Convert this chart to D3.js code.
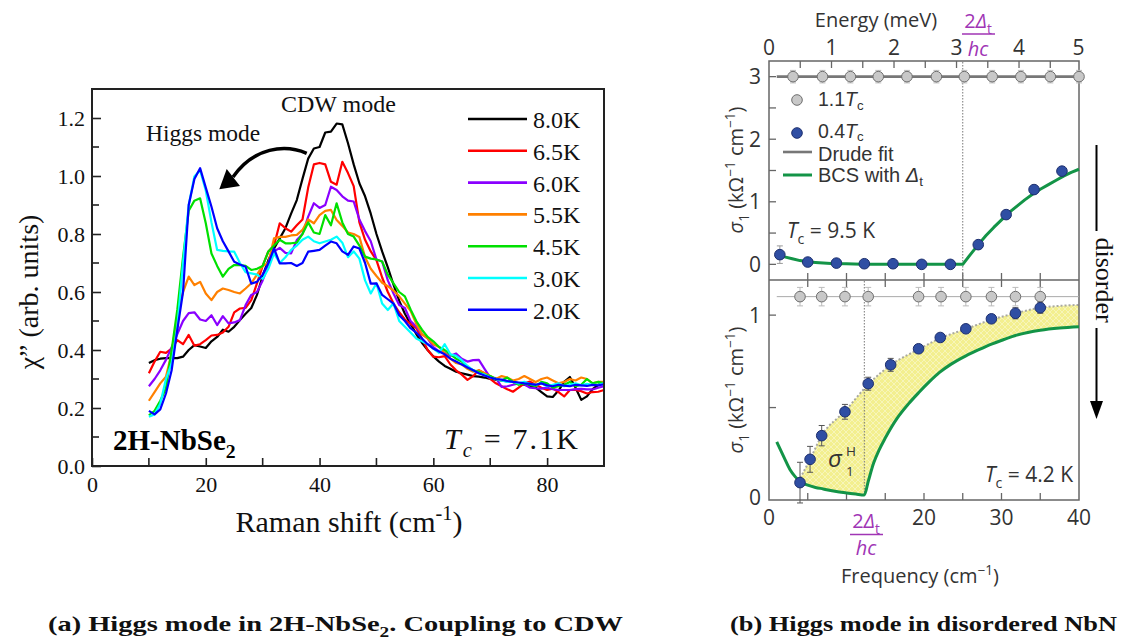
<!DOCTYPE html>
<html>
<head>
<meta charset="utf-8">
<script src="https://cdn.jsdelivr.net/npm/d3@7"></script>
<style>
  body { margin: 0; background: #fff; }
  svg { display: block; }
</style>
</head>
<body>
<svg id="fig" width="1126" height="640"></svg>
<script>
// ---------------- Panel (a): Raman spectra of 2H-NbSe2 ----------------
const shift = [10,11,12,13,14,15,16,17,18,19,20,21,22,23,24,25,26,27,28,29,
  30,31,32,33,34,35,36,37,38,39,40,41,42,43,44,45,46,47,48,49,
  50,51,52,53,54,55,56,57,58,59,60,61,62,63,64,65,66,67,68,69,
  70,71,72,73,74,75,76,77,78,79,80,81,82,83,84,85,86,87,88,89,90];

const chi80 = [0.355,0.365,0.370,0.372,0.372,0.372,0.377,0.400,0.417,0.412,
  0.407,0.430,0.445,0.470,0.463,0.480,0.503,0.525,0.545,0.590,
  0.655,0.710,0.750,0.785,0.820,0.870,0.917,0.990,1.060,1.095,
  1.100,1.150,1.153,1.181,1.178,1.113,1.040,0.975,0.930,0.870,
  0.800,0.740,0.685,0.625,0.570,0.525,0.490,0.455,0.425,0.400,
  0.378,0.360,0.345,0.335,0.325,0.320,0.315,0.310,0.308,0.305,
  0.300,0.298,0.295,0.292,0.290,0.285,0.280,0.275,0.270,0.255,
  0.240,0.238,0.260,0.290,0.307,0.270,0.228,0.240,0.265,0.280,0.291];

const chi65 = [0.320,0.360,0.394,0.390,0.405,0.434,0.420,0.452,0.415,0.420,
  0.434,0.450,0.452,0.460,0.480,0.530,0.543,0.545,0.572,0.630,
  0.690,0.740,0.760,0.837,0.820,0.808,0.830,0.850,0.960,1.040,
  1.045,1.040,0.980,0.970,1.049,1.010,0.965,0.840,0.780,0.740,
  0.710,0.650,0.600,0.560,0.530,0.505,0.490,0.475,0.440,0.400,
  0.377,0.375,0.379,0.350,0.330,0.315,0.297,0.310,0.330,0.320,
  0.300,0.285,0.275,0.265,0.256,0.270,0.285,0.291,0.280,0.270,
  0.262,0.267,0.255,0.240,0.262,0.262,0.258,0.250,0.255,0.256,0.262];

const chi60 = [0.275,0.300,0.330,0.366,0.410,0.455,0.500,0.527,0.530,0.505,
  0.500,0.520,0.486,0.517,0.492,0.495,0.503,0.555,0.590,0.600,
  0.640,0.690,0.740,0.752,0.735,0.733,0.779,0.800,0.860,0.906,
  0.890,0.900,0.963,0.952,0.930,0.915,0.912,0.850,0.810,0.775,
  0.712,0.705,0.640,0.595,0.555,0.545,0.500,0.480,0.455,0.440,
  0.410,0.395,0.390,0.380,0.388,0.370,0.360,0.365,0.366,0.335,
  0.305,0.303,0.273,0.275,0.280,0.285,0.282,0.270,0.268,0.267,
  0.270,0.265,0.262,0.262,0.262,0.265,0.266,0.264,0.264,0.270,0.275];

const chi55 = [0.225,0.255,0.285,0.308,0.390,0.520,0.600,0.653,0.624,0.635,
  0.595,0.572,0.600,0.612,0.607,0.600,0.595,0.612,0.630,0.660,
  0.690,0.700,0.785,0.790,0.790,0.795,0.797,0.814,0.850,0.837,
  0.865,0.880,0.883,0.848,0.828,0.805,0.800,0.790,0.720,0.680,
  0.655,0.632,0.620,0.605,0.585,0.560,0.535,0.490,0.455,0.440,
  0.420,0.410,0.390,0.370,0.355,0.350,0.335,0.325,0.330,0.320,
  0.310,0.300,0.310,0.305,0.295,0.300,0.310,0.300,0.290,0.300,
  0.305,0.295,0.285,0.290,0.300,0.295,0.305,0.300,0.285,0.290,0.290];

const chi45 = [0.175,0.190,0.225,0.268,0.400,0.540,0.720,0.880,0.915,0.923,
  0.837,0.733,0.690,0.653,0.680,0.693,0.693,0.690,0.676,0.680,
  0.690,0.740,0.760,0.780,0.768,0.768,0.770,0.800,0.840,0.805,
  0.800,0.865,0.830,0.906,0.840,0.800,0.791,0.760,0.722,0.715,
  0.712,0.705,0.660,0.630,0.600,0.585,0.540,0.500,0.470,0.445,
  0.430,0.410,0.400,0.385,0.370,0.360,0.340,0.330,0.325,0.315,
  0.310,0.300,0.295,0.305,0.290,0.280,0.285,0.280,0.275,0.290,
  0.285,0.270,0.275,0.280,0.290,0.275,0.280,0.300,0.285,0.290,0.285];

const chi30 = [0.170,0.178,0.215,0.300,0.354,0.480,0.700,0.900,0.998,1.020,
  0.950,0.840,0.745,0.742,0.740,0.739,0.700,0.668,0.664,0.660,
  0.645,0.680,0.733,0.700,0.720,0.745,0.760,0.780,0.791,0.775,
  0.768,0.774,0.780,0.791,0.770,0.720,0.740,0.715,0.640,0.595,
  0.630,0.560,0.538,0.561,0.500,0.480,0.460,0.440,0.430,0.420,
  0.405,0.390,0.420,0.385,0.380,0.365,0.345,0.330,0.320,0.315,
  0.305,0.300,0.295,0.290,0.290,0.285,0.290,0.283,0.280,0.285,
  0.275,0.280,0.285,0.275,0.280,0.285,0.278,0.283,0.280,0.280,0.285];

const chi20 = [0.190,0.178,0.195,0.250,0.330,0.470,0.600,0.900,0.990,1.027,
  0.960,0.894,0.820,0.775,0.740,0.704,0.695,0.687,0.629,0.635,
  0.660,0.700,0.750,0.699,0.699,0.700,0.690,0.700,0.739,0.742,
  0.745,0.760,0.774,0.768,0.740,0.728,0.757,0.750,0.700,0.629,
  0.630,0.590,0.575,0.560,0.520,0.500,0.475,0.460,0.440,0.420,
  0.405,0.395,0.385,0.370,0.360,0.350,0.340,0.330,0.320,0.312,
  0.305,0.300,0.298,0.293,0.290,0.288,0.285,0.283,0.280,0.285,
  0.278,0.275,0.280,0.277,0.275,0.280,0.278,0.276,0.280,0.278,0.282];

const tempLabels = ["8.0K", "6.5K", "6.0K", "5.5K", "4.5K", "3.0K", "2.0K"];
const spectra = [chi80, chi65, chi60, chi55, chi45, chi30, chi20];
const tempColors = ["#000000", "#ff0000", "#8a00ff", "#ff8000", "#00e000", "#00ffff", "#0000ff"];

const chiTicks = [0, 0.2, 0.4, 0.6, 0.8, 1.0, 1.2];
const chiMinor = [0.1, 0.3, 0.5, 0.7, 0.9, 1.1];
const shiftTicks = [0, 20, 40, 60, 80];
const shiftMinor = [10, 30, 50, 70];

// ---------------- Panel (b): optical conductivity of NbN ----------------
const meVtoCm = 8.0655;
const energyTicks = [0, 1, 2, 3, 4, 5];
const energyMinor = [0.5, 1, 1.5, 2, 2.5, 3, 3.5, 4, 4.5];
const freqTicks = [0, 20, 30, 40];
const freqMinor = [5, 10, 15, 20, 25, 30, 35];
const sigTopTicks = [0, 1, 2, 3];
const sigTopMinor = [0, 0.5, 1, 1.5, 2, 2.5, 3];
const sigBotTicks = [0, 1];
const sigBotMinor = [0.5, 1];

// clean film, Tc = 9.5 K
const gapClean = 25.0;
const freqNormClean = [3.1, 6.9, 10.5, 14.1, 17.8, 21.6, 25.2, 28.8, 32.5, 36.3, 40.0];
const sigNormClean = [3.0, 3.0, 3.0, 3.0, 3.0, 3.0, 3.0, 3.0, 3.0, 3.0, 3.0];
const freqSupClean = [1.4, 5.0, 8.7, 12.3, 16.0, 19.7, 23.4, 27.0, 30.6, 34.2, 37.8];
const sigSupClean = [0.155, 0.037, 0.02, 0.01, 0.01, 0.0, 0.0, 0.315, 0.795, 1.195, 1.49];
const errSupClean = [0.14, 0.03, 0.03, 0.03, 0.03, 0.03, 0.03, 0.03, 0.03, 0.03, 0.04];
const drudeFreqClean = [1.0, 40.0];
const drudeSigClean = [3.0, 3.0];
const bcsFreqClean = [1.0, 2.0, 3.0, 4.0, 5.0, 6.0, 8.0, 10.0, 12.0, 14.0, 25.0, 26.0, 27.0, 28.0, 29.0,
  30.0, 31.0, 32.0, 33.0, 34.0, 35.0, 36.0, 37.0, 38.0, 39.0, 40.0];
const bcsSigClean = [0.16, 0.12, 0.09, 0.06, 0.04, 0.03, 0.015, 0.008, 0.003, 0.0, 0.0, 0.16, 0.315, 0.46, 0.59,
  0.71, 0.83, 0.93, 1.03, 1.12, 1.20, 1.27, 1.34, 1.41, 1.47, 1.52];

// disordered film, Tc = 4.2 K
const gapDis = 12.3;
const freqNormDis = [4.0, 6.8, 9.8, 12.8, 19.3, 22.2, 25.4, 28.7, 31.8, 35.0];
const sigNormDis = [1.1, 1.1, 1.1, 1.1, 1.1, 1.1, 1.1, 1.1, 1.1, 1.1];
const freqSupDis = [4.0, 5.3, 6.8, 9.8, 12.8, 15.7, 19.3, 22.1, 25.4, 28.7, 31.8, 35.0];
const sigSupDis = [0.094, 0.22, 0.348, 0.477, 0.629, 0.731, 0.818, 0.879, 0.926, 0.98, 1.01, 1.04];
const errSupDis = [0.11, 0.07, 0.055, 0.04, 0.035, 0.035, 0.02, 0.02, 0.02, 0.02, 0.03, 0.03];
const drudeFreqDis = [1.0, 40.0];
const drudeSigDis = [1.1, 1.1];
const envFreqDis = [3.8, 5.3, 6.8, 9.8, 12.8, 15.7, 19.3, 22.1, 25.4, 28.7, 31.8, 35.0, 37.5, 40.0];
const envSigDis = [0.10, 0.22, 0.348, 0.48, 0.625, 0.73, 0.815, 0.875, 0.925, 0.975, 1.01, 1.04, 1.05, 1.055];
const bcsFreqDis = [1.0, 1.5, 2.0, 2.7, 3.4, 4.0, 5.0, 6.0, 7.0, 8.5, 10.0, 11.2, 12.3, 12.8, 13.5, 14.2, 15.0,
  16.5, 18.0, 19.3, 20.7, 22.0, 23.5, 25.4, 27.0, 28.8, 30.3, 31.8, 33.4, 35.0, 37.5, 40.0];
const bcsSigDis = [0.315, 0.27, 0.225, 0.165, 0.125, 0.10, 0.08, 0.068, 0.06, 0.047, 0.038, 0.032, 0.027, 0.10, 0.20, 0.27, 0.335,
  0.44, 0.52, 0.58, 0.64, 0.69, 0.735, 0.78, 0.812, 0.845, 0.868, 0.89, 0.906, 0.918, 0.93, 0.937];

// ---------------- drawing ----------------
const svg = d3.select("#fig");
const serif = "'Liberation Serif', 'Times New Roman', serif";
const sans = "'Open Sans', 'Liberation Sans', sans-serif";
const helv = "'Liberation Sans', Arial, sans-serif";

// text with italic / sub / superscript pieces
function rich(g, x, y, parts, size, family, anchor, fill, extra, subShift) {
  const t = g.append("text").attr("x", x).attr("y", y)
    .attr("font-size", size).attr("font-family", family)
    .attr("text-anchor", anchor || "start").attr("fill", fill || "#000");
  if (extra) Object.entries(extra).forEach(([k, v]) => t.attr(k, v));
  const sub = subShift === undefined ? 0.28 : subShift;
  let cur = 0;
  parts.forEach(p => {
    const s = typeof p === "string" ? { t: p } : p;
    const target = s.sub ? size * sub : s.sup ? -size * 0.4 : 0;
    const ts = t.append("tspan").text(s.t).attr("dy", target - cur);
    cur = target;
    if (s.sub || s.sup) ts.attr("font-size", size * 0.68);
    if (s.i) ts.attr("font-style", "italic");
    if (s.b) ts.attr("font-weight", "bold");
  });
  return t;
}

// ===== Panel (a) =====
const A = svg.append("g");
const xA = d3.scaleLinear().domain([0, 90]).range([92, 604]);
const yA = d3.scaleLinear().domain([0, 1.3]).range([466, 89]);

spectra.forEach((vals, k) => {
  const line = d3.line().x((d, i) => xA(shift[i])).y(d => yA(d));
  A.append("path").attr("d", line(vals)).attr("fill", "none")
    .attr("stroke", tempColors[k]).attr("stroke-width", 2.2)
    .attr("stroke-linejoin", "round");
});

// frame and ticks
A.append("rect").attr("x", xA(0)).attr("y", yA(1.3)).attr("width", xA(90) - xA(0))
  .attr("height", yA(0) - yA(1.3)).attr("fill", "none").attr("stroke", "#222").attr("stroke-width", 2);

const yAxisA = d3.axisLeft(yA).tickValues(chiTicks).tickFormat(d3.format(".1f")).tickSize(-9).tickPadding(7);
const gyA = A.append("g").attr("transform", `translate(${xA(0)},0)`).call(yAxisA);
gyA.select(".domain").remove();
gyA.selectAll("line").attr("stroke", "#222").attr("stroke-width", 1.6);
gyA.selectAll("text").attr("font-family", serif).attr("font-size", 22).attr("fill", "#111");
chiMinor.forEach(v => A.append("line").attr("x1", xA(0)).attr("x2", xA(0) + 7)
  .attr("y1", yA(v)).attr("y2", yA(v)).attr("stroke", "#222").attr("stroke-width", 1.6));

const xAxisA = d3.axisBottom(xA).tickValues(shiftTicks).tickSize(-8).tickPadding(10);
const gxA = A.append("g").attr("transform", `translate(0,${yA(0)})`).call(xAxisA);
gxA.select(".domain").remove();
gxA.selectAll("line").attr("stroke", "#222").attr("stroke-width", 1.6);
gxA.selectAll("text").attr("font-family", serif).attr("font-size", 22).attr("fill", "#111");
shiftMinor.forEach(v => A.append("line").attr("x1", xA(v)).attr("x2", xA(v))
  .attr("y1", yA(0)).attr("y2", yA(0) - 8).attr("stroke", "#222").attr("stroke-width", 1.6));

// axis titles
rich(A, 0, 0, ["Raman shift (cm", { t: "-1", sup: true }, ")"], 30, serif, "middle", "#111")
  .attr("transform", `translate(${xA(45) + 1},532)`);
rich(A, 0, 0, ["χ” (arb. units)"], 28, serif, "middle", "#111")
  .attr("transform", `translate(38,${yA(0.6)}) rotate(-90)`);

// legend
tempLabels.forEach((lab, k) => {
  const y = 119 + k * 31.8;
  A.append("line").attr("x1", 468).attr("x2", 527).attr("y1", y).attr("y2", y)
    .attr("stroke", tempColors[k]).attr("stroke-width", 2.6);
  A.append("text").attr("x", 533).attr("y", y + 9).text(lab)
    .attr("font-family", serif).attr("font-size", 24).attr("fill", "#111");
});

// annotations
A.append("text").attr("x", 281).attr("y", 112).text("CDW mode")
  .attr("font-family", serif).attr("font-size", 24).attr("fill", "#111");
A.append("text").attr("x", 146).attr("y", 141).text("Higgs mode")
  .attr("font-family", serif).attr("font-size", 23.5).attr("fill", "#111");
A.append("path").attr("d", "M306.7,153.3 C285,144 254,147 233,177")
  .attr("fill", "none").attr("stroke", "#000").attr("stroke-width", 3.5);
A.append("path").attr("d", "M219.3,189.3 L226.7,169 L240,186 Z").attr("fill", "#000");

rich(A, 113, 450, [{ t: "2H-NbSe", b: true }, { t: "2", sub: true, b: true }], 29, serif, "start", "#000");
rich(A, 444, 449, [{ t: "T", i: true }, { t: "c", sub: true, i: true }, " = 7.1K"], 30, serif, "start", "#111",
  { textLength: 134, lengthAdjust: "spacing" });

// ===== Panel (b) =====
const B = svg.append("g");
const grey = "#666";
const txt = "#333";
const purple = "#a035b5";
const blueFill = "#2f4ea3";
const green = "#139447";
const xB = d3.scaleLinear().domain([0, 40]).range([769, 1079]);
const yT = d3.scaleLinear().domain([-0.25, 3.25]).range([280, 61]);
const yD = d3.scaleLinear().domain([0, 1.19]).range([500, 280]);

// yellow fill with a faint cross-hatch
const defs = svg.append("defs");
const pat = defs.append("pattern").attr("id", "hatch").attr("width", 6).attr("height", 6)
  .attr("patternUnits", "userSpaceOnUse");
pat.append("rect").attr("width", 6).attr("height", 6).attr("fill", "#f3ef8f");
pat.append("path").attr("d", "M0,0 L6,6 M6,0 L0,6").attr("stroke", "#f8f6c4").attr("stroke-width", 0.8);

const curveD = d3.line().x(d => xB(d[0])).y(d => yD(d[1])).curve(d3.curveMonotoneX);
const env = envFreqDis.map((f, i) => [f, envSigDis[i]]);
const bcsD = bcsFreqDis.map((f, i) => [f, bcsSigDis[i]]);
const bcsUpper = bcsD.filter(d => d[0] >= 4.0).reverse();
const lineLin = d3.line().x(d => xB(d[0])).y(d => yD(d[1]));
B.append("path").attr("d", curveD(env) + "L" + lineLin(bcsUpper).slice(1) + "Z")
  .attr("fill", "url(#hatch)").attr("stroke", "none");
B.append("path").attr("d", curveD(env)).attr("fill", "none")
  .attr("stroke", "#a9a9a0").attr("stroke-width", 2).attr("stroke-dasharray", "2,2");

// frame
B.append("rect").attr("x", xB(0)).attr("y", 61).attr("width", xB(40) - xB(0)).attr("height", 439)
  .attr("fill", "none").attr("stroke", grey).attr("stroke-width", 1.5);
B.append("line").attr("x1", xB(0)).attr("x2", xB(40)).attr("y1", 280).attr("y2", 280)
  .attr("stroke", grey).attr("stroke-width", 1.5);

// ticks
const tick = (x1, y1, x2, y2) => B.append("line").attr("x1", x1).attr("y1", y1).attr("x2", x2).attr("y2", y2)
  .attr("stroke", grey).attr("stroke-width", 1.3);
energyMinor.forEach(e => tick(xB(e * meVtoCm), 61, xB(e * meVtoCm), 68));
freqMinor.forEach(f => {
  tick(xB(f), 280, xB(f), 273);
  tick(xB(f), 280, xB(f), 287);
  tick(xB(f), 500, xB(f), 493);
});
sigTopMinor.forEach(v => tick(xB(0), yT(v), xB(0) + 7, yT(v)));
sigBotMinor.forEach(v => tick(xB(0), yD(v), xB(0) + 7, yD(v)));

// tick labels
energyTicks.forEach(e => B.append("text").attr("x", xB(e * meVtoCm) - (e === 5 ? 3 : 0)).attr("y", 55)
  .attr("text-anchor", "middle").text(e).attr("font-family", sans).attr("font-size", 21).attr("fill", txt));
freqTicks.forEach(f => B.append("text").attr("x", xB(f)).attr("y", 525)
  .attr("text-anchor", "middle").text(f).attr("font-family", sans).attr("font-size", 21).attr("fill", txt));
sigTopTicks.forEach(v => B.append("text").attr("x", 761).attr("y", yT(v) + 7.5)
  .attr("text-anchor", "end").text(v).attr("font-family", sans).attr("font-size", 21).attr("fill", txt));
sigBotTicks.forEach(v => B.append("text").attr("x", 761).attr("y", yD(v) + (v === 0 ? 5 : 7.5))
  .attr("text-anchor", "end").text(v).attr("font-family", sans).attr("font-size", 21).attr("fill", txt));

// axis titles
B.append("text").attr("x", 876).attr("y", 27).attr("text-anchor", "middle").text("Energy (meV)")
  .attr("font-family", sans).attr("font-size", 20).attr("fill", txt);
rich(B, 920, 583, ["Frequency (cm", { t: "−1", sup: true }, ")"], 20, sans, "middle", txt);
[[yT, 170], [yD, 390]].forEach(([s, cy]) => {
  rich(B, 0, 0, [{ t: "σ", i: true }, { t: "1", sub: true }, " (kΩ", { t: "−1", sup: true }, " cm", { t: "−1", sup: true }, ")"],
    20, sans, "middle", txt).attr("transform", `translate(743,${cy}) rotate(-90)`);
});

// gap fractions 2Δt/hc
function gapLabel(cx, yNum, yBar, yDen) {
  rich(B, cx, yNum, ["2", { t: "Δ", i: true }, { t: "t", sub: true }], 20, sans, "middle", purple);
  B.append("line").attr("x1", cx - 16).attr("x2", cx + 17).attr("y1", yBar).attr("y2", yBar)
    .attr("stroke", purple).attr("stroke-width", 1.5);
  rich(B, cx, yDen, [{ t: "hc", i: true }], 20, sans, "middle", purple);
}
gapLabel(978, 28, 34, 56);
gapLabel(866, 528, 534.5, 555);

// gap markers
B.append("line").attr("x1", xB(gapClean)).attr("x2", xB(gapClean)).attr("y1", 62).attr("y2", 280)
  .attr("stroke", "#777").attr("stroke-width", 1).attr("stroke-dasharray", "1.5,1.5");
B.append("line").attr("x1", xB(gapDis)).attr("x2", xB(gapDis)).attr("y1", 281).attr("y2", yD(0.03))
  .attr("stroke", "#777").attr("stroke-width", 1).attr("stroke-dasharray", "1.5,1.5");

// Drude fits
B.append("path").attr("d", d3.line().x((d, i) => xB(drudeFreqClean[i])).y(d => yT(d))(drudeSigClean))
  .attr("stroke", "#777").attr("stroke-width", 2.6).attr("fill", "none");
B.append("path").attr("d", d3.line().x((d, i) => xB(drudeFreqDis[i])).y(d => yD(d))(drudeSigDis))
  .attr("stroke", "#aaa").attr("stroke-width", 1).attr("fill", "none");

// BCS curves
const curveT = d3.line().x(d => xB(d[0])).y(d => yT(d[1]));
B.append("path").attr("d", curveT(bcsFreqClean.map((f, i) => [f, bcsSigClean[i]])))
  .attr("fill", "none").attr("stroke", green).attr("stroke-width", 3).attr("stroke-linejoin", "round");
B.append("path").attr("d", curveD(bcsD))
  .attr("fill", "none").attr("stroke", green).attr("stroke-width", 3);

// data points with error bars
function points(fs, ss, es, ys, fill, stroke, errColor) {
  fs.forEach((f, i) => {
    const x = xB(f), e = es[i];
    if (e > 0) {
      B.append("line").attr("x1", x).attr("x2", x).attr("y1", ys(ss[i] - e)).attr("y2", ys(ss[i] + e))
        .attr("stroke", errColor).attr("stroke-width", 1);
      [ss[i] - e, ss[i] + e].forEach(v => B.append("line").attr("x1", x - 3).attr("x2", x + 3)
        .attr("y1", ys(v)).attr("y2", ys(v)).attr("stroke", errColor).attr("stroke-width", 1));
    }
    B.append("circle").attr("cx", x).attr("cy", ys(ss[i])).attr("r", 5.3)
      .attr("fill", fill).attr("stroke", stroke).attr("stroke-width", 1);
  });
}
points(freqNormClean, sigNormClean, sigNormClean.map(() => 0.1), yT, "#c8c8c8", "#6e6e6e", "#bbb");
points(freqSupClean, sigSupClean, errSupClean, yT, blueFill, "#1d2f6e", "#999");
points(freqNormDis, sigNormDis, sigNormDis.map(() => 0.05), yD, "#c8c8c8", "#6e6e6e", "#bbb");
points(freqSupDis, sigSupDis, errSupDis, yD, blueFill, "#1d2f6e", "#555");

// legend (clean film)
B.append("circle").attr("cx", 797).attr("cy", 100).attr("r", 5.3).attr("fill", "#c8c8c8").attr("stroke", "#6e6e6e");
B.append("circle").attr("cx", 797).attr("cy", 133).attr("r", 5.3).attr("fill", blueFill).attr("stroke", "#1d2f6e");
B.append("line").attr("x1", 783).attr("x2", 812).attr("y1", 152).attr("y2", 152).attr("stroke", "#777").attr("stroke-width", 2.6);
B.append("line").attr("x1", 783).attr("x2", 812).attr("y1", 175).attr("y2", 175).attr("stroke", green).attr("stroke-width", 3);
rich(B, 818, 106, ["1.1", { t: "T", i: true }, { t: "c", sub: true }], 19.5, helv, "start", txt, null, 0.18);
rich(B, 818, 137.5, ["0.4", { t: "T", i: true }, { t: "c", sub: true }], 19.5, helv, "start", txt, null, 0.18);
rich(B, 818, 160.5, ["Drude fit"], 20, helv, "start", txt);
rich(B, 818, 182, ["BCS with ", { t: "Δ", i: true }, { t: "t", sub: true }], 20, helv, "start", txt, null, 0.2);

rich(B, 787, 238, [{ t: "T", i: true }, { t: "c", sub: true }, " = 9.5 K"], 21, sans, "start", txt);
rich(B, 1073, 482, [{ t: "T", i: true }, { t: "c", sub: true }, " = 4.2 K"], 21, sans, "end", txt);

// σ1^H label inside the shaded area
B.append("text").attr("x", 828).attr("y", 467).text("σ").attr("font-family", sans)
  .attr("font-style", "italic").attr("font-size", 24).attr("fill", txt);
B.append("text").attr("x", 846).attr("y", 456).text("H").attr("font-family", sans)
  .attr("font-size", 13.5).attr("fill", txt);
B.append("text").attr("x", 846).attr("y", 475.5).text("1").attr("font-family", sans)
  .attr("font-size", 13.5).attr("fill", txt);

// "disorder" arrow
B.append("line").attr("x1", 1096.5).attr("x2", 1096.5).attr("y1", 145).attr("y2", 231)
  .attr("stroke", "#000").attr("stroke-width", 2);
B.append("line").attr("x1", 1096.5).attr("x2", 1096.5).attr("y1", 328).attr("y2", 403)
  .attr("stroke", "#000").attr("stroke-width", 2);
B.append("path").attr("d", "M1090,401 L1103,401 L1096.5,419 Z").attr("fill", "#000");
B.append("text").attr("transform", "translate(1096,280) rotate(90)").attr("text-anchor", "middle")
  .text("disorder").attr("font-family", serif).attr("font-size", 26).attr("fill", "#111");

// ===== captions =====
rich(svg, 48, 631, [{ t: "(a) Higgs mode in 2H-NbSe" }, { t: "2", sub: true }, { t: ". Coupling to CDW" }],
  22, serif, "start", "#111", { "font-weight": "bold", textLength: 575, lengthAdjust: "spacingAndGlyphs" });
rich(svg, 730, 631, ["(b) Higgs mode in disordered NbN"],
  22, serif, "start", "#111", { "font-weight": "bold", textLength: 387, lengthAdjust: "spacingAndGlyphs" });
</script>
</body>
</html>
